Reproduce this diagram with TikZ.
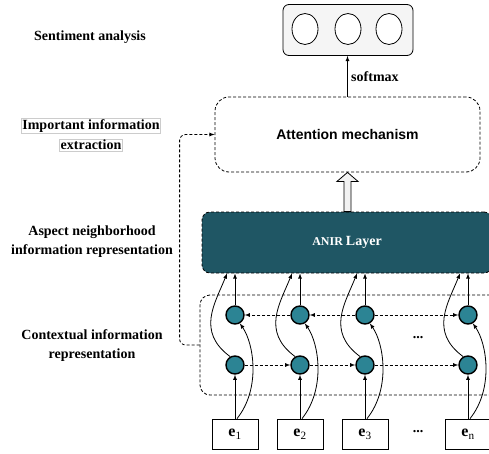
\documentclass[tikz,border=0pt]{standalone}
\usepackage{fontspec}
\setmainfont{Liberation Serif}
\newfontfamily\arialfont{Liberation Sans}
\usetikzlibrary{shapes.geometric, calc}

\definecolor{anirteal}{HTML}{1F5664}
\definecolor{cellteal}{HTML}{2C8494}

\tikzset{
  lbl/.style={font=\fontsize{14}{19}\selectfont\bfseries, align=center},
  cell/.style={circle, draw, line width=1.4pt, fill=cellteal, minimum size=18pt, inner sep=0pt},
  embbox/.style={draw, minimum width=46pt, minimum height=30pt, font=\fontsize{16}{18}\selectfont},
  dashln/.style={dash pattern=on 3pt off 2pt}
}

\begin{document}
\begin{tikzpicture}[x=1pt, y=1pt, line width=0.8pt]
      \useasboundingbox (0,0) rectangle (489,453);
      \clip (0,0) rectangle (489,453);

      \node[lbl] (sa) at (90, 416) {Sentiment analysis};
      \node[lbl, draw=gray!40, line width=0.5pt, inner sep=1pt] (iie1) at (91, 327) {Important information};
      \node[lbl, draw=gray!40, line width=0.5pt, inner sep=1pt] (iie2) at (91, 308) {extraction};
      \node[lbl] (anr) at (92, 211) {Aspect neighborhood\\information representation};
      \node[lbl] (cir) at (92, 107) {Contextual information\\representation};

      \node[draw, rounded corners=6pt, fill=gray!8, minimum width=130pt, minimum height=51pt] (out) at (348, 423) {};
      \node[ellipse, draw, fill=white, minimum width=26pt, minimum height=31pt] (o1) at (305, 424) {};
      \node[ellipse, draw, fill=white, minimum width=26pt, minimum height=31pt] (o2) at (348, 424) {};
      \node[ellipse, draw, fill=white, minimum width=26pt, minimum height=31pt] (o3) at (389, 424) {};

      \node[draw, dashln, rounded corners=14pt, minimum width=265pt, minimum height=75pt,
            font=\arialfont\fontsize{14}{16}\selectfont\bfseries] (att) at (347.5, 318.5) {Attention mechanism};
      \node[draw, dashln, rounded corners=8pt, fill=anirteal, text=white, minimum width=290pt, minimum height=61pt,
            font=\bfseries] (anir) at (347, 210.5) {\fontsize{12}{14}\selectfont ANIR \fontsize{14}{16}\selectfont Layer};
      \node[draw, dashln, rounded corners=10pt, minimum width=300pt, minimum height=100pt] (ctx) at (350, 108) {};

      \draw[-latex] (att.north) -- (att.north |- out.south) node[midway, right, lbl] {softmax};
      \coordinate (hb) at (att.south |- anir.north);
      \draw[fill=gray!10] ($(hb)+(-3.5,0)$) -- ($(att.south)+(-3.5,-9)$) -- ($(att.south)+(-10.5,-9)$) -- (att.south)
            -- ($(att.south)+(10.5,-9)$) -- ($(att.south)+(3.5,-9)$) -- ($(hb)+(3.5,0)$) -- cycle;
      \draw[dashln, -latex, rounded corners=6pt] (ctx.west) -- ++(-20,0) |- (att.west);

      \foreach \x/\i/\s in {235/1/1, 300/2/2, 365/3/3, 468/4/n} {
        \node[cell] (u\i) at (\x, 138) {};
        \node[cell] (l\i) at (\x, 88) {};
        \node[embbox] (e\i) at (\x, 19) {$\mathbf{e}_{\mathrm{\s}}$};
        \draw[-latex] (e\i.north) -- (l\i.south);
        \draw[-latex] (u\i.north) -- (u\i.north |- anir.south);
        \draw[-latex] ([xshift=2pt]e\i.north) .. controls +(24,30) and +(14,-20) .. (u\i.-60);
        \draw[-latex] (l\i.120) .. controls +(-34,25) and +(-12,-30) .. ([xshift=-8pt]u\i.north |- anir.south);
      }
      \draw[dashln, -latex] (l1) -- (l2);
      \draw[dashln, -latex] (l2) -- (l3);
      \draw[dashln, -latex] (l3) -- (l4);
      \draw[dashln, -latex] (u2) -- (u1);
      \draw[dashln, -latex] (u3) -- (u2);
      \draw[dashln, -latex] (u3) -- (u4);

      \node[lbl] (dt1) at (418, 115) {...};
      \node[lbl] (dt2) at (418, 21) {...};
\end{tikzpicture}
\end{document}
